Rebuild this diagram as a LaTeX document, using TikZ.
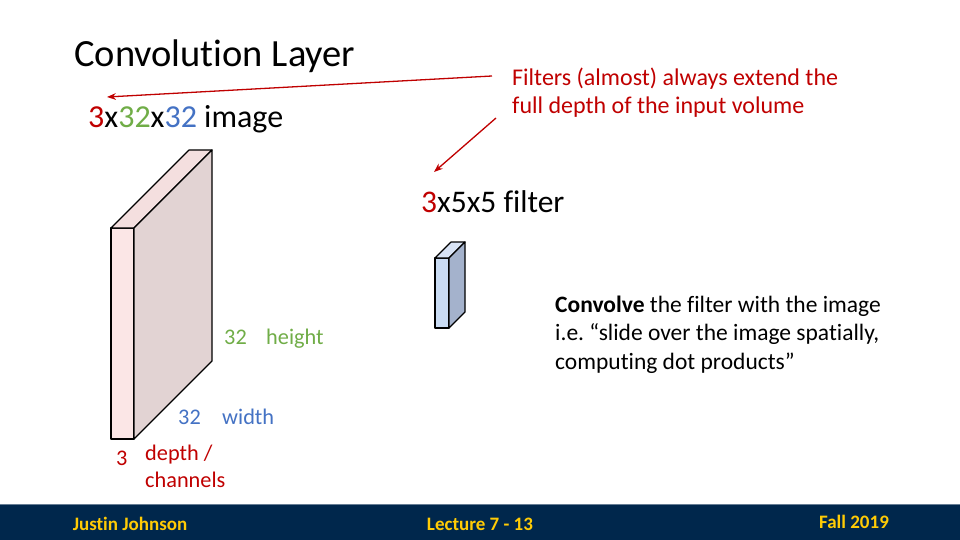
\documentclass[tikz,border=0pt]{standalone}
\usepackage{fontspec}
\setmainfont{Carlito}[Ligatures=NoCommon]
\usetikzlibrary{arrows.meta,positioning,calc}
\definecolor{slidered}{HTML}{C00000}
\definecolor{slidegreen}{HTML}{70AD47}
\definecolor{slideblue}{HTML}{4472C4}
\definecolor{umblue}{HTML}{00274C}
\definecolor{maize}{HTML}{FFCB05}
\definecolor{imgfront}{RGB}{251,230,230}
\definecolor{imgside}{RGB}{226,211,211}
\definecolor{imgtop}{RGB}{244,223,223}
\definecolor{filfront}{RGB}{201,219,243}
\definecolor{filside}{RGB}{164,178,204}
\definecolor{filtop}{RGB}{216,227,245}
\frenchspacing

\begin{document}
\begin{tikzpicture}[>=Stealth,x=1pt,y=-1pt,
 txt/.style={anchor=base west,inner sep=0pt},
 note/.style={anchor=base west,inner sep=0pt,align=left},
 face/.style={draw=black,line width=1.2pt,line join=round},
 pointer/.style={->,draw=slidered,line width=1.3pt},
 foot/.style={anchor=base,inner sep=0pt,text=maize,font=\fontsize{19}{22}\selectfont\bfseries}]
\useasboundingbox (0,0) rectangle (960,540);
\fill[white] (0,0) rectangle (960,540);
% title and labels
\node[txt,font=\fontsize{38.5}{44}\selectfont] (title) at (74,67) {Convolution Layer};
\node[txt,font=\fontsize{32}{36}\selectfont] (imglab) at (88,128)
 {\textcolor{slidered}{3}x\textcolor{slidegreen}{32}x\textcolor{slideblue}{32} image};
\node[txt,font=\fontsize{31.5}{36}\selectfont] (fillab) at (421,212)
 {\textcolor{slidered}{3}x5x5 filter};
% (multi-line notes: base = last line)
\node[note,font=\fontsize{24}{27.5}\selectfont,text=slidered] (depthnote) at (512,113.5)
 {Filters (almost) always extend the\\full depth of the input volume};
\node[note,font=\fontsize{23.5}{28.5}\selectfont] (convnote) at (555,369)
 {\textbf{Convolve} the filter with the image\\i.e. ``slide over the image spatially,\\computing dot products''};
% image volume
\coordinate (a1) at (111,228); \coordinate (a2) at (134,228);
\coordinate (a3) at (134,439); \coordinate (a4) at (111,439);
\coordinate (b1) at (189,150); \coordinate (b2) at (212,150);
\coordinate (b3) at (212,361);
\filldraw[face,fill=imgfront] (a1) -- (a2) -- (a3) -- (a4) -- cycle;
\filldraw[face,fill=imgtop] (a1) -- (b1) -- (b2) -- (a2) -- cycle;
\filldraw[face,fill=imgside] (a2) -- (b2) -- (b3) -- (a3) -- cycle;
% filter volume
\coordinate (f1) at (435,258); \coordinate (f2) at (449,258);
\coordinate (f3) at (449,328); \coordinate (f4) at (435,328);
\coordinate (g1) at (451,242); \coordinate (g2) at (465,242);
\coordinate (g3) at (465,312);
\filldraw[face,fill=filfront] (f1) -- (f2) -- (f3) -- (f4) -- cycle;
\filldraw[face,fill=filtop] (f1) -- (g1) -- (g2) -- (f2) -- cycle;
\filldraw[face,fill=filside] (f2) -- (g2) -- (g3) -- (f3) -- cycle;
% dimension labels
\node[txt,font=\fontsize{22.3}{26}\selectfont,text=slidegreen] (hnum) at (224,344) {32};
\node[txt,font=\fontsize{22.3}{26}\selectfont,text=slidegreen] (hlab) at (266,344) {height};
\node[txt,font=\fontsize{22.3}{26}\selectfont,text=slideblue] (wnum) at (178,424) {32};
\node[txt,font=\fontsize{22.3}{26}\selectfont,text=slideblue] (wlab) at (222,424) {width};
\node[txt,font=\fontsize{22.3}{26}\selectfont,text=slidered] (dnum) at (116,465) {3};
\node[note,font=\fontsize{22.3}{27}\selectfont,text=slidered] (dlab) at (145,487) {depth /\\channels};
% pointers
\coordinate (p1) at (107,97);
\coordinate (p2) at (434,172);
\draw[pointer] ($(depthnote.base west)+(-20,-37.5)$) -- (p1);
\draw[pointer] ($(depthnote.base west)+(-16,4.5)$) -- (p2);
% footer
\fill[umblue] (0,504) rectangle (960,540);
\draw[line width=1pt,color=umblue!60!white] (0,504) -- (960,504);
\node[foot] (author) at (130,530) {Justin Johnson};
\node[foot] (lecture) at (480,530) {Lecture 7 - 13};
\node[foot] (term) at (854,528) {Fall 2019};
\end{tikzpicture}
\end{document}
